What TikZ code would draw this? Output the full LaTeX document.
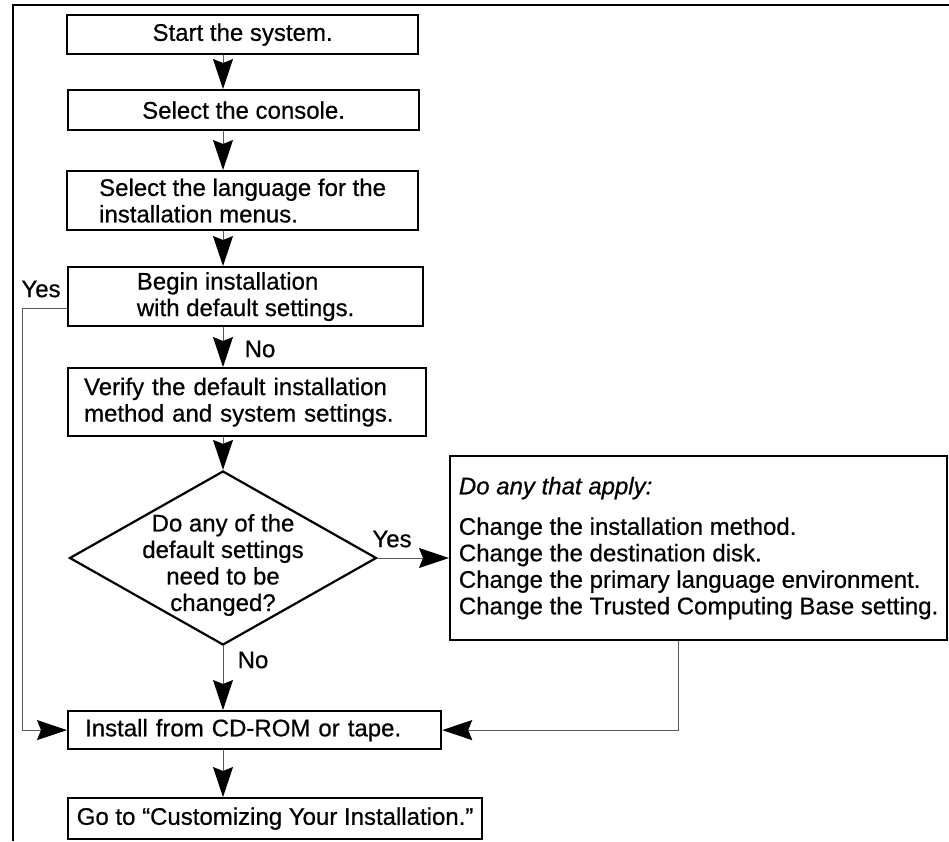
\documentclass[tikz,border=0pt]{standalone}
\usepackage{fontspec}
\setmainfont{Liberation Sans}[UprightFeatures={FakeBold=0.6},ItalicFeatures={FakeBold=0.6}]
\usetikzlibrary{arrows.meta,shapes.geometric}
\newcommand{\stepdown}[2]{\draw[flow] (#1.south -| spine) -- (#2.north -| spine);}

\begin{document}
\begin{tikzpicture}[x=1pt,y=-1pt,
  every node/.style={font=\fontsize{24}{26.5}\selectfont},
  box/.style={draw,line width=2.2pt,anchor=north west,inner sep=0pt,align=left},
  lbox/.style={box,inner xsep=16pt},
  decision/.style={draw,diamond,line width=2.2pt,inner sep=0pt},
  flow/.style={-{Stealth[length=30pt,width=20pt,inset=4pt,black]},line width=1pt,black!65},
  lbl/.style={inner sep=0pt}]
  \useasboundingbox (0,0) rectangle (949,841);
  \draw[line width=1.5pt] (13,841) -- (13,5) -- (949,5);
  \coordinate (spine) at (223,0);
  \coordinate (rail) at (22,0);
  \coordinate (drop) at (678,0);

  \node[box,minimum width=351pt,minimum height=39pt] (start) at (66,14) {Start the system.};
  \node[box,minimum width=351pt,minimum height=40pt] (console) at (67,89) {Select the console.};
  \node[box,minimum width=351pt,minimum height=59pt] (lang) at (66,170) {Select the language for the\\installation menus.};
  \node[box,minimum width=355pt,minimum height=59pt] (begin) at (67,266) {Begin installation\\with default settings.};
  \node[lbox,text width=326pt,minimum height=68pt] (verify) at (67,367) {Verify the default installation\\method and system settings.};
  \node[decision,minimum width=307pt,minimum height=174pt] (q) at (223,558) {};
  \node[align=center,inner sep=0pt] (qtext) at (223,565) {Do any of the\\default settings\\need to be\\changed?};
  \node[box,minimum width=497pt,minimum height=184pt] (apply) at (449,455)
    {\textit{Do any that apply:}\\[14pt]
     Change the installation method.\\
     Change the destination disk.\\
     Change the primary language environment.\\
     Change the Trusted Computing Base setting.};
  \node[lbox,inner xsep=17pt,text width=339pt,minimum height=38pt] (install) at (67,710) {Install from CD-ROM or tape.};
  \node[box,minimum width=414pt,minimum height=41pt] (goto) at (67,797) {Go to “Customizing Your Installation.”};

  \node[lbl] (yes1) at (41,289) {Yes};
  \node[lbl] (no1) at (260,349) {No};
  \node[lbl] (yes2) at (392,539) {Yes};
  \node[lbl] (no2) at (253,660) {No};

  \stepdown{start}{console}
  \stepdown{console}{lang}
  \stepdown{lang}{begin}
  \stepdown{begin}{verify}
  \stepdown{verify}{q}
  \stepdown{q}{install}
  \stepdown{install}{goto}
  \draw[flow] (q.east) -- (q.east -| apply.west);
  \draw[flow] ([yshift=-12pt]begin.west) -| (rail |- install.west) -- (install.west);
  \draw[flow] (apply.south -| drop) |- (install.east);
\end{tikzpicture}
\end{document}
